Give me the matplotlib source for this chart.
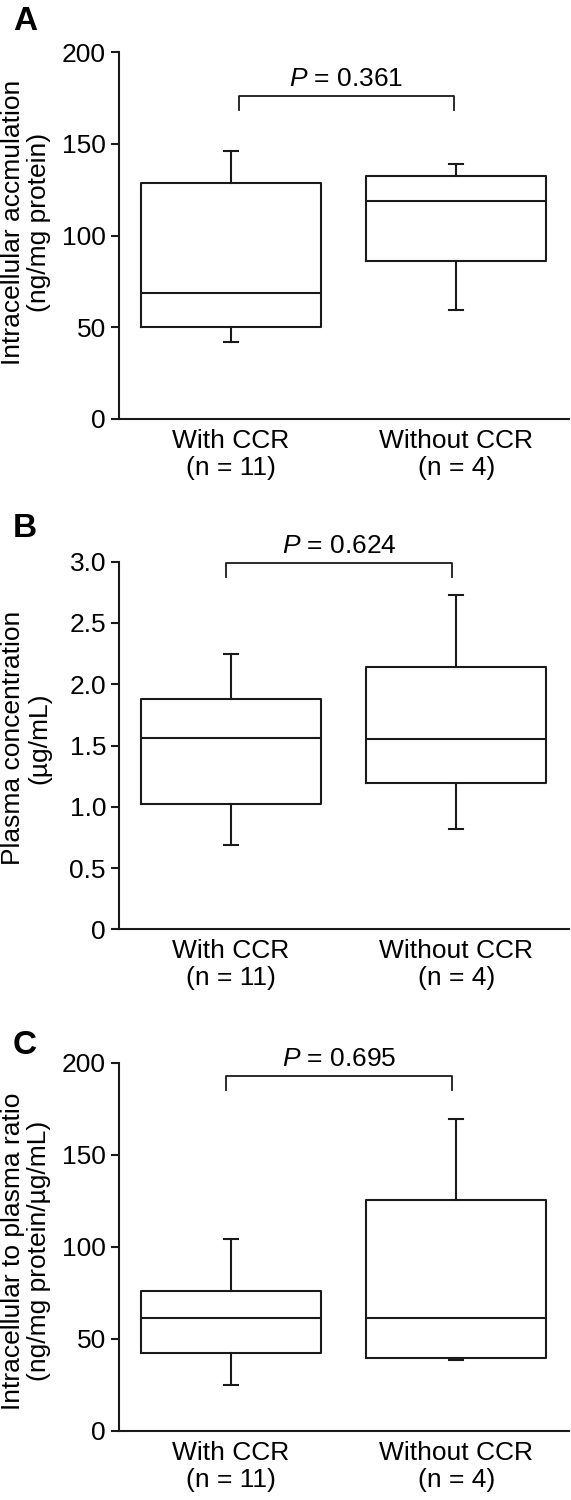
import matplotlib
matplotlib.use("Agg")
import matplotlib.pyplot as plt

# ---------------- data ----------------
groups = ["With CCR\n(n = 11)", "Without CCR\n(n = 4)"]
panel_letters = ["A", "B", "C"]
ylabels = ["Intracellular accmulation\n(ng/mg protein)",
           "Plasma concentration\n(\u00b5g/mL)",
           "Intracellular to plasma ratio\n(ng/mg protein/\u00b5g/mL)"]
p_values = ["0.361", "0.624", "0.695"]

# box stats per group: whislo, q1, median, q3, whishi
a_with = [41.9, 50.0, 68.4, 128.7, 146.1]
a_without = [59.3, 85.9, 118.6, 132.4, 138.7]
b_with = [0.69, 1.02, 1.56, 1.88, 2.25]
b_without = [0.82, 1.19, 1.55, 2.14, 2.73]
c_with = [25.0, 42.5, 61.2, 76.0, 104.1]
c_without = [38.6, 39.8, 61.2, 125.4, 169.4]

a_ticks = [0, 50, 100, 150, 200]
a_ticklabels = ["0", "50", "100", "150", "200"]
b_ticks = [0, 0.5, 1.0, 1.5, 2.0, 2.5, 3.0]
b_ticklabels = ["0", "0.5", "1.0", "1.5", "2.0", "2.5", "3.0"]
c_ticks = [0, 50, 100, 150, 200]
c_ticklabels = ["0", "50", "100", "150", "200"]

# bracket: left x, right x, bar y, leg bottom y, text y
a_bracket = [1.033, 1.989, 175.9, 168.4, 178.5]
b_bracket = [0.979, 1.980, 2.99, 2.873, 3.03]
c_bracket = [0.979, 1.980, 192.8, 185.2, 195.5]

# --------------- style ----------------
plt.rcParams["font.family"] = ["Liberation Sans", "DejaVu Sans"]
plt.rcParams["mathtext.fontset"] = "custom"
plt.rcParams["mathtext.it"] = "Liberation Sans:italic"
plt.rcParams["mathtext.rm"] = "Liberation Sans"
FS = 19
INK = "#1a1a1a"

W, H = 571, 1500
fig = plt.figure(figsize=(W / 100, H / 100), dpi=100)

panels = [
    (a_with, a_without, a_ticks, a_ticklabels, a_bracket, (0, 200), 52, 419, 6, 222),
    (b_with, b_without, b_ticks, b_ticklabels, b_bracket, (0, 3.0), 561.7, 929.3, 513, 738),
    (c_with, c_without, c_ticks, c_ticklabels, c_bracket, (0, 200), 1062.7, 1431, 1030, 1251),
]

ax_left_px, ax_right_px = 118.5, 569

for i, (sw, swo, ticks, tlabels, br, ylim, top_px, bot_px, letter_top, ylab_c) in enumerate(panels):
    ax = fig.add_axes([ax_left_px / W, 1 - bot_px / H,
                       (ax_right_px - ax_left_px) / W, (bot_px - top_px) / H])
    stats = []
    for s, lab in zip([sw, swo], groups):
        stats.append(dict(whislo=s[0], q1=s[1], med=s[2], q3=s[3], whishi=s[4],
                          label=lab, fliers=[]))
    lw = 1.5
    ax.bxp(stats, positions=[1, 2], widths=0.8, capwidths=0.062,
           showfliers=False,
           boxprops=dict(color=INK, linewidth=lw),
           whiskerprops=dict(color=INK, linewidth=lw),
           capprops=dict(color=INK, linewidth=lw),
           medianprops=dict(color=INK, linewidth=lw))
    ax.set_xlim(0.5, 2.5)
    ax.set_ylim(*ylim)
    ax.set_yticks(ticks)
    ax.set_yticklabels(tlabels)
    ax.set_xticks([1, 2])
    ax.set_xticklabels(groups)
    for sp in ["top", "right"]:
        ax.spines[sp].set_visible(False)
    for sp in ["left", "bottom"]:
        ax.spines[sp].set_linewidth(1.5)
        ax.spines[sp].set_color(INK)
    ax.tick_params(axis="y", length=6, width=1.5, pad=3, labelsize=FS, color=INK)
    ax.tick_params(axis="x", length=0, pad=7, labelsize=FS)
    for t in ax.get_xticklabels():
        t.set_linespacing(1.15)

    # significance bracket
    x0, x1, yb, yl, yt = br
    ax.plot([x0, x0, x1, x1], [yl, yb, yb, yl], color=INK, linewidth=1.3,
            clip_on=False)
    ax.text((x0 + x1) / 2, yt, r"$\it{P}$ = " + p_values[i], ha="center",
            va="bottom", fontsize=FS, clip_on=False)

    # y label
    fig.text(26 / W, 1 - ylab_c / H, ylabels[i], rotation=90, ha="center",
             va="center", fontsize=FS, linespacing=1.15)
    # panel letter
    fig.text(13 / W, 1 - letter_top / H, panel_letters[i], ha="left", va="top",
             fontsize=24, fontweight="bold")

fig.savefig("out.png", dpi=100)
